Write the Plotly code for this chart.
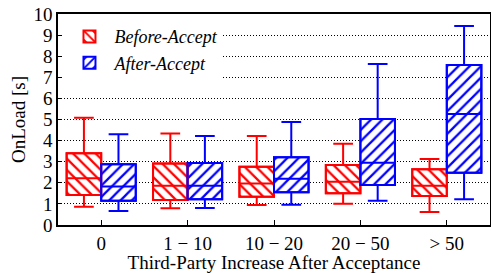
import plotly.graph_objects as go

categories = ["0", "1 − 10", "10 − 20", "20 − 50", "> 50"]

before_low = [0.87, 0.79, 0.95, 1.01, 0.62]
before_q1 = [1.42, 1.18, 1.34, 1.50, 1.37]
before_med = [2.21, 1.86, 1.97, 2.05, 1.86]
before_q3 = [3.40, 2.92, 2.76, 2.84, 2.64]
before_high = [5.08, 4.34, 4.22, 3.85, 3.13]

after_low = [0.66, 0.81, 0.96, 1.15, 1.22]
after_q1 = [1.15, 1.22, 1.55, 1.90, 2.48]
after_med = [1.82, 1.86, 2.19, 2.95, 5.26]
after_q3 = [2.88, 2.94, 3.21, 5.02, 7.58]
after_high = [4.30, 4.22, 4.88, 7.63, 9.43]

y_ticks = list(range(0, 11))

RED = "#ff0000"
BLUE = "#0000ff"
FONT = "Liberation Serif"

fig = go.Figure()

series = [
    ("Before-Accept", RED, "\\", before_low, before_q1, before_med, before_q3, before_high),
    ("After-Accept", BLUE, "/", after_low, after_q1, after_med, after_q3, after_high),
]

for name, color, shape, lo, q1, med, q3, hi in series:
    fig.add_trace(go.Bar(
        name=name, x=categories,
        y=[b - a for a, b in zip(q1, q3)], base=q1,
        offsetgroup=name,
        marker=dict(color="white", line=dict(color=color, width=2),
                    pattern=dict(shape=shape, fgcolor=color, bgcolor="white",
                                 fgopacity=1, size=8, solidity=0.28,
                                 fillmode="replace")),
        showlegend=True, hoverinfo="skip",
    ))

for name, color, shape, lo, q1, med, q3, hi in series:
    fig.add_trace(go.Box(
        name=name, x=categories, q1=q1, median=med, q3=q3,
        lowerfence=lo, upperfence=hi, offsetgroup=name,
        fillcolor="rgba(0,0,0,0)", line=dict(color=color, width=2),
        whiskerwidth=0.57, showlegend=False, boxpoints=False,
        hoverinfo="skip",
    ))

fig.update_layout(
    width=491, height=273,
    margin=dict(l=58, r=1, t=14, b=48, autoexpand=False),
    paper_bgcolor="white", plot_bgcolor="white",
    barmode="group", bargap=0.2, bargroupgap=0,
    boxmode="group", boxgap=0.2, boxgroupgap=0,
    font=dict(family=FONT, size=19, color="black"),
    showlegend=True,
    legend=dict(x=0.015, y=0.98, xanchor="left", yanchor="top",
                bgcolor="white", borderwidth=0,
                font=dict(family=FONT, size=18, style="italic"),
                itemwidth=40),
    xaxis=dict(range=[-0.5, 4.5], showline=True, linecolor="black", linewidth=1.5,
               mirror=True, ticks="inside", ticklen=5, tickcolor="black",
               showgrid=False, zeroline=False, automargin=False,
               tickfont=dict(size=19),
               title=dict(text="Third-Party Increase After Acceptance", standoff=4,
                          font=dict(size=19))),
    yaxis=dict(range=[0, 10], tickvals=y_ticks, showline=True, linecolor="black",
               linewidth=1.5, mirror=True, ticks="inside", ticklen=4,
               tickcolor="black", showgrid=True, gridcolor="black",
               griddash="1px,2px", gridwidth=1, zeroline=False, automargin=False,
               tickfont=dict(size=19),
               title=dict(text="OnLoad [s]", standoff=3, font=dict(size=19))),
)

fig.write_html("out.html", config={"displayModeBar": False},
               post_script="document.body.style.margin='0';")
